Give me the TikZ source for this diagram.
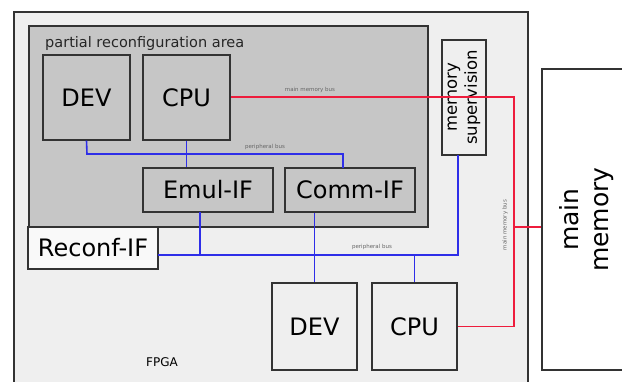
\documentclass[tikz,border=0pt]{standalone}
\usepackage{fontspec}
\setmainfont{DejaVu Sans}
\usetikzlibrary{calc}
\definecolor{fpgabg}{HTML}{EFEFEF}
\definecolor{prbg}{HTML}{C6C6C6}
\definecolor{edge}{HTML}{333333}
\definecolor{busblue}{HTML}{2E2EE8}
\definecolor{busred}{HTML}{EE1C3C}
\tikzset{
  blk/.style={draw=edge, line width=1.3pt, rectangle, inner sep=0pt, align=center},
  prblk/.style={blk, fill=prbg, font=\fontsize{24}{28}\selectfont},
  outblk/.style={blk, fill=fpgabg, font=\fontsize{24}{28}\selectfont},
  pbus/.style={draw=busblue, line width=1.6pt},
  mbus/.style={draw=busred, line width=1.6pt},
  tiny/.style={font=\fontsize{5.5}{6}\selectfont, text=black!60, inner sep=0pt}
}
\begin{document}
\begin{tikzpicture}[x=1pt,y=-1pt]
\useasboundingbox (0,0) rectangle (622,381);
\begin{scope}
\clip (0,0) rectangle (622,381);
\node[blk, fill=fpgabg, minimum width=514pt, minimum height=388pt] (fpga) at (271,206) {};
\node[blk, fill=prbg, minimum width=399pt, minimum height=201pt] (pr) at (228.5,126.5) {};
\node[anchor=base west, inner sep=0pt, font=\fontsize{14.5}{16}\selectfont, text=black!85] (prlabel) at (45,47) {partial reconfiguration area};
\node[prblk, minimum width=87pt, minimum height=85pt] (dev1) at (86.5,97.5) {DEV};
\node[prblk, minimum width=87pt, minimum height=85pt] (cpu1) at (186.5,97.5) {CPU};
\node[prblk, minimum width=130pt, minimum height=44pt] (emul) at (208,190) {Emul-IF};
\node[prblk, minimum width=130pt, minimum height=44pt] (comm) at (350,190) {Comm-IF};
\node[blk, fill=white!60!fpgabg, minimum width=130pt, minimum height=42pt, font=\fontsize{24}{28}\selectfont] (reconf) at (93,248) {Reconf-IF};
\node[blk, fill=fpgabg, minimum width=115pt, minimum height=44pt, rotate=90, font=\fontsize{16.5}{20}\selectfont] (memsup) at (464,97.5) {memory\\supervision};
\node[blk, fill=white, minimum width=98pt, minimum height=301pt] (mainmem) at (591,219.5) {};
\node[rotate=90, align=center, inner sep=0pt, font=\fontsize{25}{30}\selectfont] (mmtext) at (587,219.5) {main\\memory};
\node[outblk, minimum width=85pt, minimum height=87pt] (dev2) at (314.5,326.5) {DEV};
\node[outblk, minimum width=85pt, minimum height=87pt] (cpu2) at (414.5,326.5) {CPU};
\node[inner sep=0pt, font=\fontsize{12}{14}\selectfont] (fpgalabel) at (162,362) {FPGA};

% peripheral bus (upper)
\coordinate (pt1) at (87,154);
\coordinate (pt2) at (343,154);
\coordinate (pt3) at (343,168);
\draw[pbus] (dev1.south) -- (pt1) -- (pt2) -- (pt3);
\draw[pbus] (cpu1.south) -- (cpu1.south |- emul.north);
\node[tiny] (pblab1) at (265,147) {peripheral bus};

% peripheral bus (lower)
\coordinate (pb1) at (158,255);
\coordinate (pb2) at (458,255);
\coordinate (pb3) at (458,155);
\coordinate (pe1) at (200,212);
\coordinate (pe2) at (200,255);
\draw[pbus] (pb1) -- (pb2) -- (pb3);
\draw[pbus] (pe1) -- (pe2);
\draw[pbus] (dev2.north |- comm.south) -- (dev2.north);
\draw[pbus] (cpu2.north) -- (cpu2.north |- pb1);
\node[tiny] (pblab2) at (372,247) {peripheral bus};

% main memory bus
\coordinate (rm) at (514,97);
\coordinate (rb) at (514,326.5);
\coordinate (rj) at (514,227);
\draw[mbus] (cpu1.east |- rm) -- (rm) -- (rb) -- (cpu2.east);
\draw[mbus] (rj) -- (rj -| mainmem.west);
\node[tiny] (mblab1) at (310,90) {main memory bus};
\node[tiny, rotate=90] (mblab2) at (505,225) {main memory bus};
\end{scope}
\end{tikzpicture}
\end{document}
